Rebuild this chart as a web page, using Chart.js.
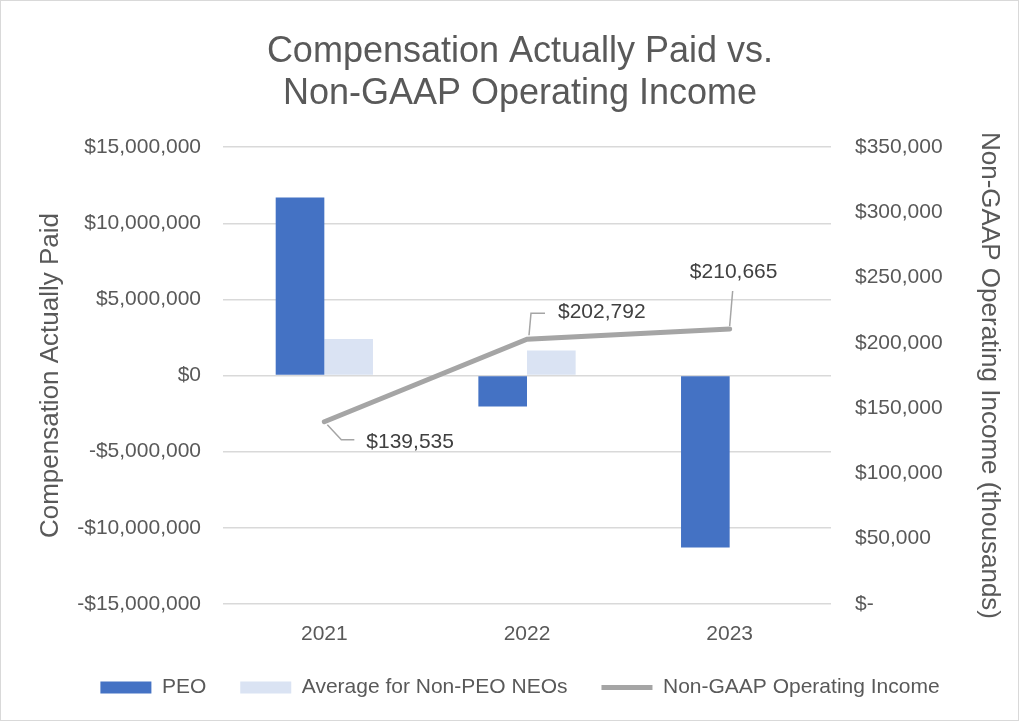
<!DOCTYPE html>
<html>
<head>
<meta charset="utf-8">
<script src="https://cdn.jsdelivr.net/npm/chart.js@4.4.0/dist/chart.umd.min.js"></script>
<style>
  body { margin: 0; background: #fff; }
  #wrap { width: 1017px; height: 719px; border: 1px solid #d9d9d9; }
</style>
</head>
<body>
<div id="wrap"><canvas id="myChart" width="1017" height="719"></canvas></div>
<script>
const years = ["2021", "2022", "2023"];
const peoValues = [11700000, -2040000, -11300000];
const nonPeoValues = [2400000, 1640000, 0];
const operatingIncome = [139535, 202792, 210665];

// where each line label sits relative to its point: leader path + text anchor
const labelOffsets = [
  { path: [[3, 3], [17, 18], [30, 18]], text: [42, 20], align: "left" },
  { path: [[2, -4], [4, -26], [18, -26]], text: [31, -27], align: "left" },
  { path: [[0, -3], [3, -38]], text: [4, -57], align: "center" }
];

const grey = "#595959";
const fontFamily = "'Liberation Sans', Arial, sans-serif";

function money(v) {
  const s = Math.abs(v).toLocaleString("en-US");
  return (v < 0 ? "-$" : "$") + s;
}

const lineLabels = {
  id: "lineLabels",
  afterDatasetsDraw(chart) {
    const meta = chart.getDatasetMeta(2);
    const ctx = chart.ctx;
    ctx.save();
    meta.data.forEach(function(pt, i) {
      const o = labelOffsets[i];
      ctx.beginPath();
      ctx.strokeStyle = "#a5a5a5";
      ctx.lineWidth = 1.5;
      o.path.forEach(function(p, j) {
        if (j === 0) ctx.moveTo(pt.x + p[0], pt.y + p[1]);
        else ctx.lineTo(pt.x + p[0], pt.y + p[1]);
      });
      ctx.stroke();
      ctx.fillStyle = "#404040";
      ctx.font = "21px " + fontFamily;
      ctx.textAlign = o.align;
      ctx.textBaseline = "middle";
      ctx.fillText(money(operatingIncome[i]), pt.x + o.text[0], pt.y + o.text[1]);
    });
    ctx.restore();
  }
};

var ctx = document.getElementById("myChart").getContext("2d");
var myChart = new Chart(ctx, {
  type: "bar",
  data: {
    labels: years,
    datasets: [
      {
        label: "PEO",
        data: peoValues,
        backgroundColor: "#4472c4",
        yAxisID: "y",
        pointStyle: "rect",
        barPercentage: 1,
        categoryPercentage: 0.48
      },
      {
        label: "Average for Non-PEO NEOs",
        data: nonPeoValues,
        backgroundColor: "#dae3f3",
        yAxisID: "y",
        pointStyle: "rect",
        barPercentage: 1,
        categoryPercentage: 0.48
      },
      {
        type: "line",
        label: "Non-GAAP Operating Income",
        data: operatingIncome,
        borderColor: "#a5a5a5",
        backgroundColor: "#a5a5a5",
        borderWidth: 5,
        borderCapStyle: "round",
        pointRadius: 0,
        pointStyle: "line",
        yAxisID: "y1"
      }
    ]
  },
  options: {
    responsive: false,
    animation: false,
    layout: { padding: { left: 34, right: 13, top: 8, bottom: 12 } },
    plugins: {
      tooltip: { enabled: false },
      title: {
        display: true,
        text: ["Compensation Actually Paid vs.", "Non-GAAP Operating Income"],
        color: grey,
        font: { family: fontFamily, size: 36, weight: "normal", lineHeight: 1.17 },
        padding: { top: 22, bottom: 32 }
      },
      legend: {
        position: "bottom",
        labels: {
          usePointStyle: true,
          pointStyleWidth: 51,
          boxHeight: 12,
          color: grey,
          padding: 34,
          font: { family: fontFamily, size: 21 }
        }
      }
    },
    scales: {
      x: {
        afterFit(s) { s.height -= 14; },
        grid: { display: false },
        border: { display: false },
        ticks: { color: grey, font: { family: fontFamily, size: 21 }, padding: 10 }
      },
      y: {
        position: "left",
        min: -15000000,
        max: 15000000,
        afterFit(s) { s.width = 188; },
        grid: { color: "#d9d9d9", lineWidth: 1.5, drawTicks: false },
        border: { display: false },
        ticks: {
          stepSize: 5000000,
          color: grey,
          padding: 22,
          font: { family: fontFamily, size: 21 },
          callback: function(v) { return money(v); }
        },
        title: {
          display: true,
          text: "Compensation Actually Paid",
          color: grey,
          font: { family: fontFamily, size: 26 },
          padding: 0
        }
      },
      y1: {
        position: "right",
        min: 0,
        max: 350000,
        afterFit(s) { s.width = 174; },
        grid: { display: false },
        border: { display: false },
        ticks: {
          stepSize: 50000,
          color: grey,
          padding: 16,
          font: { family: fontFamily, size: 21 },
          callback: function(v) { return v === 0 ? "$-" : money(v); }
        },
        title: {
          display: true,
          text: "Non-GAAP Operating Income (thousands)",
          color: grey,
          font: { family: fontFamily, size: 26 },
          padding: 0
        }
      }
    }
  },
  plugins: [lineLabels]
});
</script>
</body>
</html>
